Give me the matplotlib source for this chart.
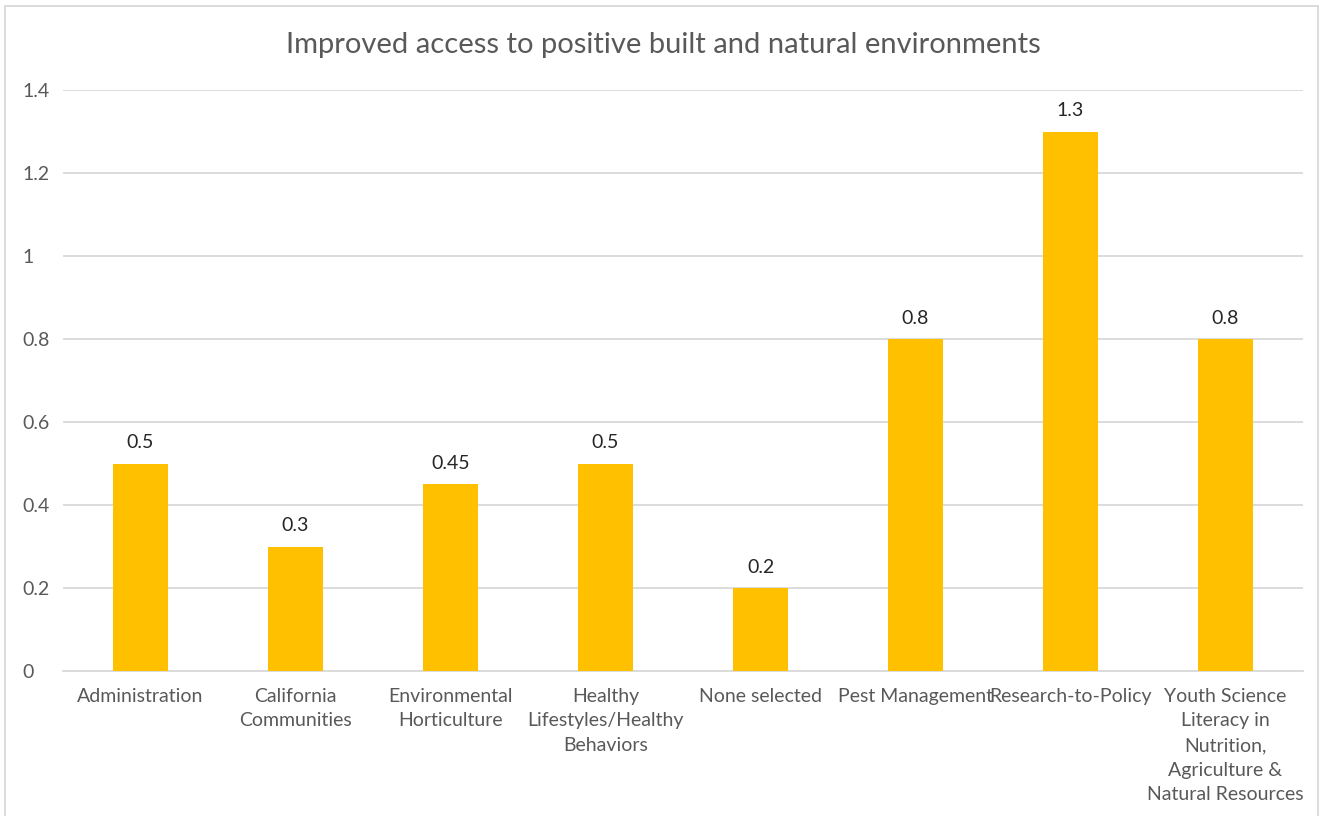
import numpy as np
import matplotlib.pyplot as plt
from matplotlib.patches import Rectangle

categories = ['Administration', 'California\nCommunities', 'Environmental\nHorticulture',
              'Healthy\nLifestyles/Healthy\nBehaviors', 'None selected', 'Pest Management',
              'Research-to-Policy',
              'Youth Science\nLiteracy in\nNutrition,\nAgriculture &\nNatural Resources']
values = [0.5, 0.3, 0.45, 0.5, 0.2, 0.8, 1.3, 0.8]
value_labels = ['0.5', '0.3', '0.45', '0.5', '0.2', '0.8', '1.3', '0.8']
yticks = [0, 0.2, 0.4, 0.6, 0.8, 1.0, 1.2, 1.4]
ytick_labels = ['0', '0.2', '0.4', '0.6', '0.8', '1', '1.2', '1.4']

plt.rcParams['font.family'] = ['Lato', 'DejaVu Sans']

W, H = 1326, 816
fig = plt.figure(figsize=(W / 100, H / 100), dpi=100)
ax = fig.add_axes([63 / W, 1 - 671 / H, (1303 - 63) / W, (671 - 90) / H])

x = np.arange(len(categories))
ax.bar(x, values, width=0.36, color='#FFC000', zorder=3)
for xi, v, lab in zip(x, values, value_labels):
    ax.text(xi, v + 0.03, lab, ha='center', va='bottom', fontsize=14, color='#262626')

ax.set_xlim(-0.5, len(categories) - 0.5)
ax.set_ylim(0, 1.4)
ax.set_yticks(yticks)
ax.set_yticklabels(ytick_labels)
ax.set_xticks(x)
ax.set_xticklabels(categories, linespacing=1.55)
ax.tick_params(axis='both', length=0, labelsize=14, labelcolor='#595959')
ax.tick_params(axis='y', pad=29)
ax.tick_params(axis='x', pad=12)
for lab in ax.get_yticklabels():
    lab.set_horizontalalignment('left')
ax.yaxis.grid(True, color='#D9D9D9', linewidth=1.3, zorder=0)
for s in ['top', 'right', 'left']:
    ax.spines[s].set_visible(False)
ax.spines['bottom'].set_color('#D9D9D9')
ax.spines['bottom'].set_linewidth(1.3)

fig.text(0.5, 1 - 45 / H, 'Improved access to positive built and natural environments',
         ha='center', va='center', fontsize=21, color='#595959')

fig.patches.append(Rectangle((5 / W, -0.01), (1318 - 5) / W, 1 - 6 / H + 0.01,
                             transform=fig.transFigure, fill=False,
                             edgecolor='#D9D9D9', linewidth=1.3))

fig.savefig('out.png', dpi=100)
